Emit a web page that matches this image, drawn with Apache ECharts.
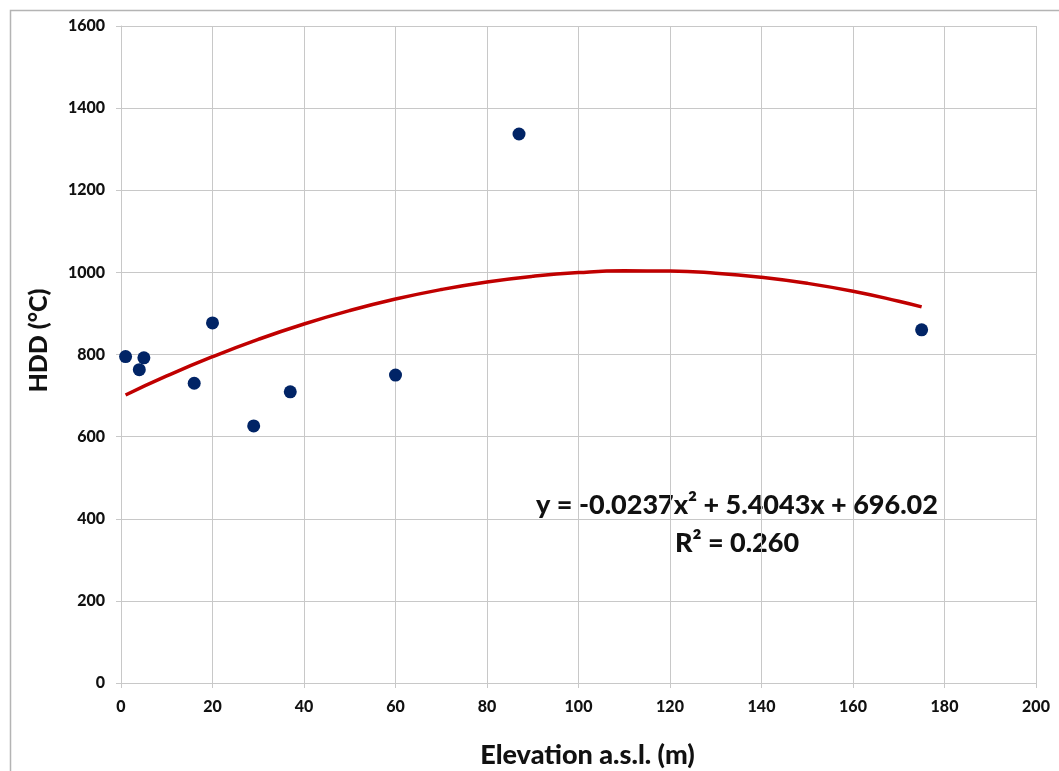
<!DOCTYPE html>
<html>
<head>
<meta charset="utf-8">
<script src="https://cdn.jsdelivr.net/npm/echarts@6/dist/echarts.min.js"></script>
<style>html,body{margin:0;padding:0;background:#fff;}#chart{width:1059px;height:771px;}</style>
</head>
<body>
<div id="chart"></div>
<script>
// Observed stations: elevation (m) and HDD (°C)
const elevation = [1, 4, 5, 16, 20, 29, 37, 60, 87, 175];
const hdd = [795, 763, 792, 730, 877, 626, 709, 750, 1337, 860];
// Polynomial trendline as drawn (values read/evaluated at sample elevations)
const trendX = [1, 10, 20, 30, 40, 50, 60, 70, 80, 90, 100, 110, 120, 130, 140, 150, 160, 170, 175];
const trendY = [701.4, 747.7, 794.6, 836.8, 874.3, 907.0, 935.0, 958.2, 976.7, 990.4, 999.5, 1003.7, 1003.3, 998.1, 988.1, 973.4, 954.0, 929.8, 916.0];
const xTicks = [0, 20, 40, 60, 80, 100, 120, 140, 160, 180, 200];
const yTicks = [0, 200, 400, 600, 800, 1000, 1200, 1400, 1600];
const eqText = 'y = -0.0237x² + 5.4043x + 696.02';
const r2Text = 'R² = 0.260';

const FONT = 'Lato, "Open Sans", sans-serif';
const chart = echarts.init(document.getElementById('chart'), null, {renderer: 'canvas'});
const gridColor = '#c8c8c8';
chart.setOption({
  animation: false,
  backgroundColor: '#fff',
  grid: {left: 121, right: 23, top: 26, bottom: 88, containLabel: false, outerBoundsMode: 'none'},
  xAxis: {
    type: 'value', min: xTicks[0], max: xTicks[xTicks.length - 1], interval: 20,
    name: 'Elevation a.s.l. (m)', nameLocation: 'middle', nameGap: 59,
    nameTextStyle: {fontFamily: FONT, fontWeight: 900, fontSize: 27, color: '#111', padding: [0, 0, 0, 18]},
    axisLine: {show: true, lineStyle: {color: gridColor, width: 1}},
    axisTick: {show: true, length: 5, lineStyle: {color: gridColor}},
    axisLabel: {margin: 16, fontFamily: FONT, fontWeight: 900, fontSize: 16, color: '#111',
      formatter: v => String(v)},
    splitLine: {show: true, lineStyle: {color: gridColor, width: 1}}
  },
  yAxis: {
    type: 'value', min: yTicks[0], max: yTicks[yTicks.length - 1], interval: 200,
    name: 'HDD (°C)', nameLocation: 'middle', nameGap: 70, nameRotate: 90,
    nameTextStyle: {fontFamily: FONT, fontWeight: 900, fontSize: 25, color: '#111', padding: [0, 0, 0, 28]},
    axisLine: {show: true, lineStyle: {color: gridColor, width: 1}},
    axisTick: {show: true, length: 5, lineStyle: {color: gridColor}},
    axisLabel: {margin: 16, fontFamily: FONT, fontWeight: 900, fontSize: 16, color: '#111',
      formatter: v => String(v)},
    splitLine: {show: true, lineStyle: {color: gridColor, width: 1}}
  },
  series: [
    {
      type: 'line', data: trendX.map((x, i) => [x, trendY[i]]),
      smooth: true, showSymbol: false, symbol: 'none',
      lineStyle: {color: '#c00000', width: 3.5}, z: 2
    },
    {
      type: 'scatter', data: elevation.map((x, i) => [x, hdd[i]]),
      symbol: 'circle', symbolSize: 13,
      itemStyle: {color: '#012466', opacity: 1}, z: 3
    }
  ],
  graphic: [
    {type: 'rect', left: 8, top: 8, shape: {width: 1070, height: 790}, silent: true,
     style: {fill: 'none', stroke: '#b4b4b4', lineWidth: 1.5}},
    {type: 'text', x: 737, y: 505, style: {text: eqText, font: '900 27px ' + FONT, fill: '#111', align: 'center', verticalAlign: 'middle'}},
    {type: 'text', x: 737, y: 543, style: {text: r2Text, font: '900 27px ' + FONT, fill: '#111', align: 'center', verticalAlign: 'middle'}}
  ]
});
</script>
</body>
</html>
